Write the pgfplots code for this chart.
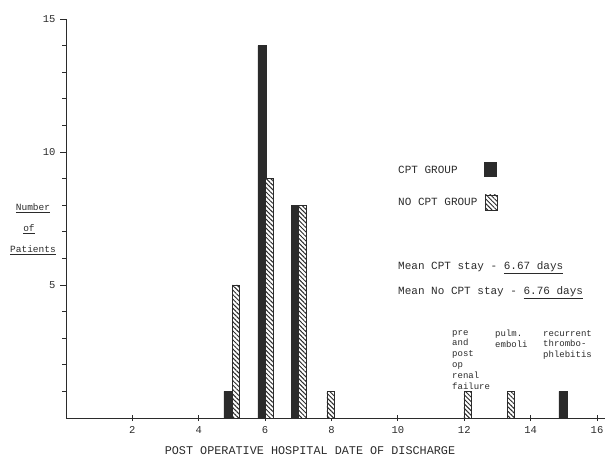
\documentclass[border=0pt]{standalone}
\usepackage{pgfplots}
\pgfplotsset{compat=1.18}
\usepackage{fontspec}
\setmainfont{Liberation Mono}
\usetikzlibrary{patterns,patterns.meta}
\definecolor{ink}{HTML}{2B2B2B}
\begin{document}
\begin{tikzpicture}[x=1pt,y=1pt]
\useasboundingbox (0,0) rectangle (612,460);
\begin{axis}[
  at={(66pt,42pt)}, anchor=south west, scale only axis,
  width=539.3pt, height=399pt,
  xmin=0, xmax=16.25, ymin=0, ymax=15,
  axis x line=bottom, axis y line=left,
  axis line style={-, line width=1pt, ink},
  xtick={2,4,...,16}, ytick={5,10,15}, minor ytick={1,...,14},
  xtick align=center, ytick align=outside,
  tick style={ink, line width=0.8pt},
  major tick length=6pt, minor tick length=4pt,
  /pgf/number format/assume math mode=true,
  ticklabel style={font=\fontsize{10.5}{10.5}\selectfont, text=ink},
  xticklabel style={yshift=-2pt},
  yticklabel style={xshift=-1pt},
  clip=false,
]
\addplot[ybar, bar width=0.24, bar shift=0pt, fill=ink, draw=ink]
  coordinates {(4.88,1) (5.9,14) (6.9,8) (14.97,1)};
\addplot[ybar, bar width=0.22, bar shift=0pt, draw=ink, fill=white,
  postaction={pattern={Lines[angle=-45, distance=3.2pt, line width=1pt]}, pattern color=ink}]
  coordinates {(5.12,5) (6.12,9) (7.12,8) (7.97,1) (12.1,1) (13.4,1)};
\end{axis}
% y label
\begin{scope}[every node/.style={font=\fontsize{9.5}{9.5}\selectfont, text=ink, inner sep=0pt}]
\node at (33,252) {\underline{Number}};
\node at (29,231) {\underline{of}};
\node at (33,210) {\underline{Patients}};
\end{scope}
% x label
\node[font=\fontsize{11.8}{12}\selectfont, text=ink, inner sep=0pt] at (310,9) {POST OPERATIVE HOSPITAL DATE OF DISCHARGE};
% legend
\begin{scope}[every node/.style={font=\fontsize{11}{11}\selectfont, text=ink, inner sep=0pt, anchor=west}]
\node at (398,290) {CPT GROUP};
\node at (398,258) {NO CPT GROUP};
\node at (398,192) {Mean CPT stay - \underline{6.67 days}};
\node at (398,167) {Mean No CPT stay - \underline{6.76 days}};
\end{scope}
\fill[ink] (484,283) rectangle (497,298);
\draw[ink, fill=white] (485,250) rectangle (497,265);
\fill[pattern={Lines[angle=-45, distance=3.2pt, line width=1pt]}, pattern color=ink] (485,250) rectangle (497,265);
% annotations
\begin{scope}[every node/.style={font=\fontsize{9}{10.8}\selectfont, text=ink, inner sep=0pt, anchor=north west, align=left}]
\node at (452,130) {pre\\and\\post\\op\\renal\\failure};
\node at (495,130) {pulm.\\emboli};
\node at (543,130) {recurrent\\thrombo-\\phlebitis};
\end{scope}
\end{tikzpicture}
\end{document}
